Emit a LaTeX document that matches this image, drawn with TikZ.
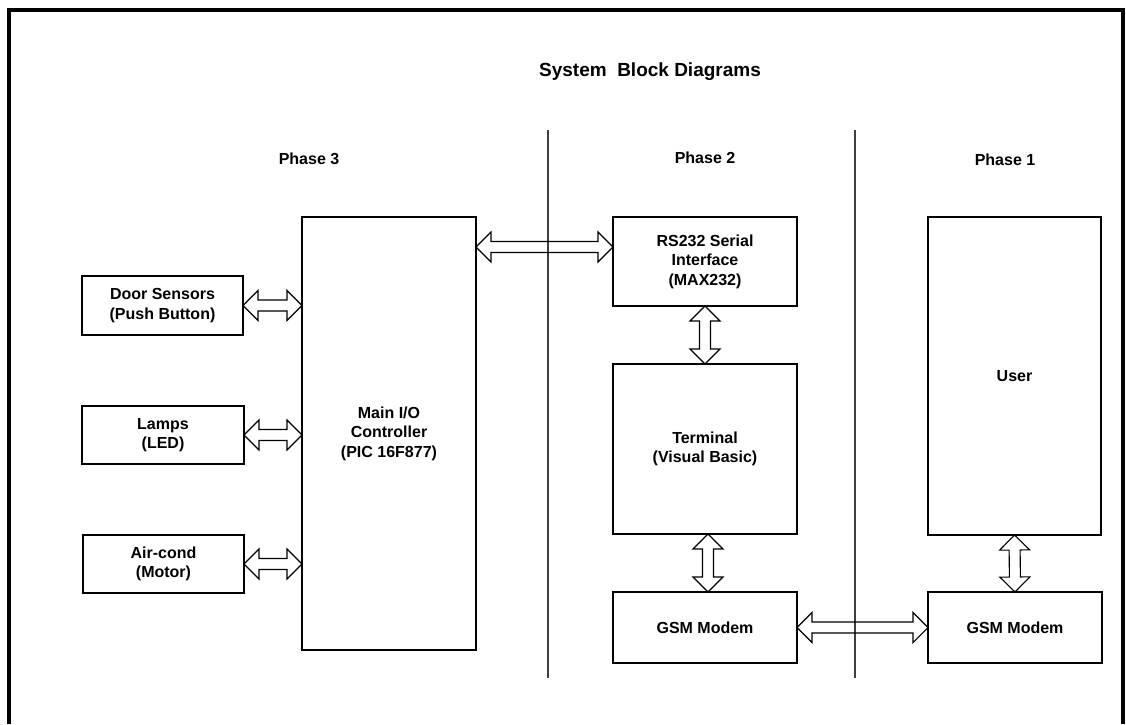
\documentclass[tikz,border=0pt]{standalone}
\usepackage{fontspec}
\setmainfont{Liberation Sans}
\usetikzlibrary{calc}
\newcommand\dblarr[2]{%
  \path (#1) coordinate (ba-s) (#2) coordinate (ba-e);
  \path ($(ba-s)!15pt!(ba-e)$) coordinate (ba-h1) ($(ba-e)!15pt!(ba-s)$) coordinate (ba-h2);
  \draw[arrowline] (ba-s) -- ($(ba-h1)!15pt!90:(ba-e)$) -- ($(ba-h1)!5.5pt!90:(ba-e)$)
    -- ($(ba-h2)!5.5pt!-90:(ba-s)$) -- ($(ba-h2)!15pt!-90:(ba-s)$) -- (ba-e)
    -- ($(ba-h2)!15pt!90:(ba-s)$) -- ($(ba-h2)!5.5pt!90:(ba-s)$)
    -- ($(ba-h1)!5.5pt!-90:(ba-e)$) -- ($(ba-h1)!15pt!-90:(ba-e)$) -- cycle;}
\begin{document}
\begin{tikzpicture}[x=1pt,y=1pt,
  box/.style={draw=black,line width=1.3pt,inner sep=0pt,outer sep=0pt,anchor=north west,
    align=center,font=\fontsize{16}{19.5}\selectfont\bfseries},
  lbl/.style={font=\fontsize{16}{19}\selectfont\bfseries},
  ttl/.style={font=\fontsize{19}{22}\selectfont\bfseries},
  divider/.style={draw=black!75,line width=1.3pt},
  frameline/.style={line width=4pt,line join=miter},
  arrowline/.style={draw=black,line width=1.1pt,line join=miter}]
\useasboundingbox (0,0) rectangle (1126,-724);
\draw[frameline] (9,-724) -- (9,-10) -- (1123,-10) -- (1123,-724);

\node[ttl] (title) at (650,-72) {System~~Block Diagrams};
\node[lbl] (p3) at (309,-159) {Phase 3};
\node[lbl] (p2) at (705,-158) {Phase 2};
\node[lbl] (p1) at (1005,-160) {Phase 1};

\draw[divider] (548,-130) -- (548,-678);
\draw[divider] (855,-130) -- (855,-678);

\node[box,minimum width=174,minimum height=433] (main) at (302,-217) {Main I/O\\Controller\\(PIC 16F877)};
\node[box,minimum width=161,minimum height=59] (door) at (82,-276) {Door Sensors\\(Push Button)};
\node[box,minimum width=162,minimum height=58] (lamps) at (82,-406) {Lamps\\(LED)};
\node[box,minimum width=161,minimum height=58] (air) at (83,-535) {Air-cond\\(Motor)};
\node[box,minimum width=184,minimum height=89] (rs) at (613,-217) {RS232 Serial\\Interface\\(MAX232)};
\node[box,minimum width=184,minimum height=170] (term) at (613,-364) {Terminal\\(Visual Basic)};
\node[box,minimum width=184,minimum height=71] (gsm2) at (613,-592) {GSM Modem};
\node[box,minimum width=173,minimum height=318] (user) at (928,-217) {User};
\node[box,minimum width=174,minimum height=71] (gsm1) at (928,-592) {GSM Modem};

\coordinate (mr) at ($(main.north east)+(0,-30)$);
\coordinate (tb) at ($(term.south)+(3,0)$);
\coordinate (gt) at ($(gsm2.north)+(3,0)$);

\dblarr{door.east}{main.west |- door.east}
\dblarr{lamps.east}{main.west |- lamps.east}
\dblarr{air.east}{main.west |- air.east}
\dblarr{mr}{rs.west |- mr}
\dblarr{rs.south}{term.north}
\dblarr{tb}{gt}
\dblarr{user.south}{gsm1.north}
\dblarr{gsm2.east}{gsm1.west}
\end{tikzpicture}
\end{document}
